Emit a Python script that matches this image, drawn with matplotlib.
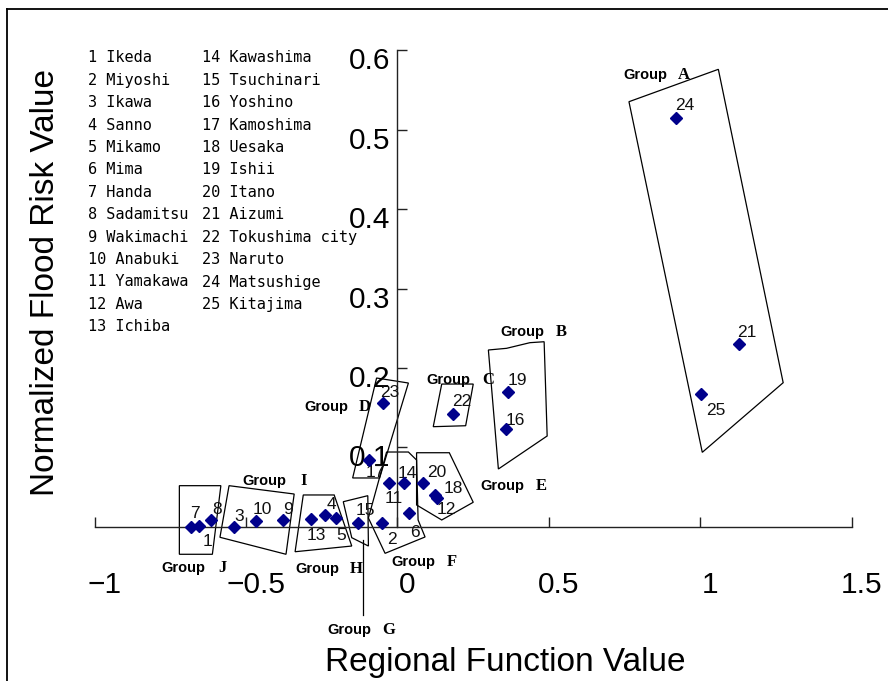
import matplotlib
matplotlib.use('Agg')
import matplotlib.pyplot as plt
import matplotlib.transforms as mtransforms
from matplotlib.lines import Line2D
from matplotlib.patches import Polygon

plt.rcParams['font.family'] = ['Liberation Sans', 'DejaVu Sans']

# regions: (regional function value, normalized flood risk value)
names = ['Ikeda', 'Miyoshi', 'Ikawa', 'Sanno', 'Mikamo', 'Mima', 'Handa',
         'Sadamitsu', 'Wakimachi', 'Anabuki', 'Yamakawa', 'Awa', 'Ichiba',
         'Kawashima', 'Tsuchinari', 'Yoshino', 'Kamoshima', 'Uesaka', 'Ishii',
         'Itano', 'Aizumi', 'Tokushima city', 'Naruto', 'Matsushige', 'Kitajima']
func_val = [-0.654, -0.050, -0.540, -0.238, -0.204, 0.039, -0.682, -0.615,
            -0.378, -0.468, -0.029, 0.130, -0.285, 0.021, -0.131, 0.357,
            -0.093, 0.123, 0.366, 0.085, 1.128, 0.184, -0.047, 0.920, 1.003]
risk_val = [0.0014, 0.0044, 0.0001, 0.0152, 0.0115, 0.0174, 0.0001, 0.0086,
            0.0082, 0.0069, 0.0555, 0.0363, 0.0102, 0.0555, 0.0048, 0.1228,
            0.0841, 0.0401, 0.1702, 0.0555, 0.2302, 0.1417, 0.1555, 0.5152,
            0.1673]
# where the number of each region is written
lab_x = [-0.628, -0.019, -0.522, -0.217, -0.186, 0.058, -0.668, -0.597, -0.362,
         -0.446, -0.014, 0.162, -0.267, 0.034, -0.107, 0.388, -0.074, 0.184,
         0.395, 0.129, 1.152, 0.212, -0.027, 0.949, 1.050]
lab_y = [-0.0179, -0.0166, 0.0127, 0.0287, -0.0112, -0.0074, 0.0170, 0.0220,
         0.0220, 0.0212, 0.0359, 0.0212, -0.0112, 0.0674, 0.0203, 0.1336,
         0.0686, 0.0485, 0.1840, 0.0686, 0.2445, 0.1576, 0.1689, 0.5312, 0.1462]

# group outlines
group_A = [(0.764, 0.5354), (1.059, 0.5762), (1.273, 0.1815), (1.006, 0.0938)]
group_B = [(0.300, 0.2227), (0.360, 0.2248), (0.437, 0.2319), (0.484, 0.2331),
           (0.494, 0.1144), (0.333, 0.0728)]
group_C = [(0.146, 0.1798), (0.250, 0.1798), (0.225, 0.1273), (0.118, 0.1261)]
group_D = [(-0.069, 0.1874), (0.036, 0.1811), (-0.059, 0.0615), (-0.148, 0.0615)]
group_E = [(0.063, 0.0933), (0.171, 0.0933), (0.250, 0.0309), (0.146, 0.0086),
           (0.063, 0.0275)]
group_F = [(-0.036, 0.0942), (0.036, 0.0942), (0.063, 0.0841), (0.068, 0.0086),
           (0.091, -0.0128), (-0.041, -0.0334), (-0.096, 0.0111)]
group_G = [(-0.179, 0.0316), (-0.098, 0.0392), (-0.096, -0.0242), (-0.151, -0.0137)]
group_H = [(-0.311, 0.0401), (-0.209, 0.0401), (-0.151, -0.0242), (-0.338, -0.0314)]
group_I = [(-0.556, 0.0518), (-0.341, 0.0413), (-0.368, -0.0346), (-0.586, -0.0132)]
group_J = [(-0.720, 0.0518), (-0.583, 0.0518), (-0.611, -0.0346), (-0.720, -0.0346)]
group_shapes = [group_A, group_B, group_C, group_D, group_E,
                group_F, group_G, group_H, group_I, group_J]
group_letters = ['A', 'B', 'C', 'D', 'E', 'F', 'G', 'H', 'I', 'J']
group_lx = [0.744, 0.338, 0.096, -0.309, 0.272, -0.021, -0.230, -0.338, -0.512, -0.778]
group_ly = [0.5690, 0.2457, 0.1849, 0.1513, 0.0514, -0.0443, -0.1300, -0.0531,
            0.0581, -0.0523]
g_leader_x = [-0.114, -0.114]
g_leader_y = [-0.0166, -0.111]

xticks = [-1, -0.5, 0, 0.5, 1, 1.5]
xtick_labels = ['\u22121', '\u22120.5', '0', '0.5', '1', '1.5']
yticks = [0.1, 0.2, 0.3, 0.4, 0.5, 0.6]
ytick_labels = ['0.1', '0.2', '0.3', '0.4', '0.5', '0.6']

fig = plt.figure(figsize=(8.88, 6.81), dpi=100)
ax = fig.add_axes([0, 0, 1, 1])
ax.set_xlim(-1.312, 1.619)
ax.set_ylim(-0.1942, 0.6635)
ax.patch.set_alpha(0)

for s in ['top', 'right']:
    ax.spines[s].set_visible(False)
ax.spines['left'].set_position(('data', 0))
ax.spines['bottom'].set_position(('data', 0))
ax.spines['left'].set_bounds(0, 0.6)
ax.spines['bottom'].set_bounds(-1, 1.5)
for s in ['left', 'bottom']:
    ax.spines[s].set_color('#222222')
    ax.spines[s].set_linewidth(1.0)

ax.set_xticks(xticks)
ax.set_xticklabels(xtick_labels)
ax.set_yticks(yticks)
ax.set_yticklabels(ytick_labels)
ax.tick_params(direction='in', length=7, width=1, color='#222222', labelsize=21.5)
ax.tick_params(axis='x', pad=32)
ax.tick_params(axis='y', pad=5)
for lbl in ax.get_xticklabels():
    lbl.set_transform(lbl.get_transform() +
                      mtransforms.ScaledTranslation(0.1, 0, fig.dpi_scale_trans))
for lbl in ax.get_yticklabels():
    lbl.set_transform(lbl.get_transform() +
                      mtransforms.ScaledTranslation(0, -0.08, fig.dpi_scale_trans))

for shape in group_shapes:
    ax.add_patch(Polygon(shape, closed=True, fill=False, ec='black', lw=0.9))
ax.plot(g_leader_x, g_leader_y, color='black', lw=0.9)

for gx, gy, letter in zip(group_lx, group_ly, group_letters):
    ax.text(gx, gy, 'Group', fontsize=10.5, fontweight='bold', ha='left', va='center')
    ax.annotate(letter, (gx, gy), xytext=(44, 0), textcoords='offset points',
                ha='center', va='center', fontsize=12, fontweight='bold',
                family='Liberation Serif')

ax.plot(func_val, risk_val, linestyle='none', marker='D', markersize=6,
        color='#00008b', zorder=5)
for i, (lx, ly) in enumerate(zip(lab_x, lab_y)):
    ax.text(lx, ly, str(i + 1), fontsize=12.5, ha='center', va='center', color='#111111')

# list of region names
for i, name in enumerate(names):
    col = 0 if i < 13 else 1
    row = i if i < 13 else i - 13
    fig.text([88, 202][col] / 888, 1 - (58 + 22.4 * row) / 681, '%d %s' % (i + 1, name),
             family='DejaVu Sans Mono', fontsize=11, ha='left', va='center')

fig.text(505 / 888, 1 - 662 / 681, 'Regional Function Value', fontsize=24,
         ha='center', va='center')
fig.text(46 / 888, 1 - 282 / 681, 'Normalized Flood Risk Value', fontsize=24,
         rotation=90, ha='center', va='center')

# outer frame (top and left edges visible)
fig.add_artist(Line2D([7 / 888, 1], [1 - 9 / 681, 1 - 9 / 681],
                      transform=fig.transFigure, color='black', lw=1.3))
fig.add_artist(Line2D([7 / 888, 7 / 888], [0, 1 - 9 / 681],
                      transform=fig.transFigure, color='black', lw=1.3))

fig.savefig('out.png', dpi=100)
